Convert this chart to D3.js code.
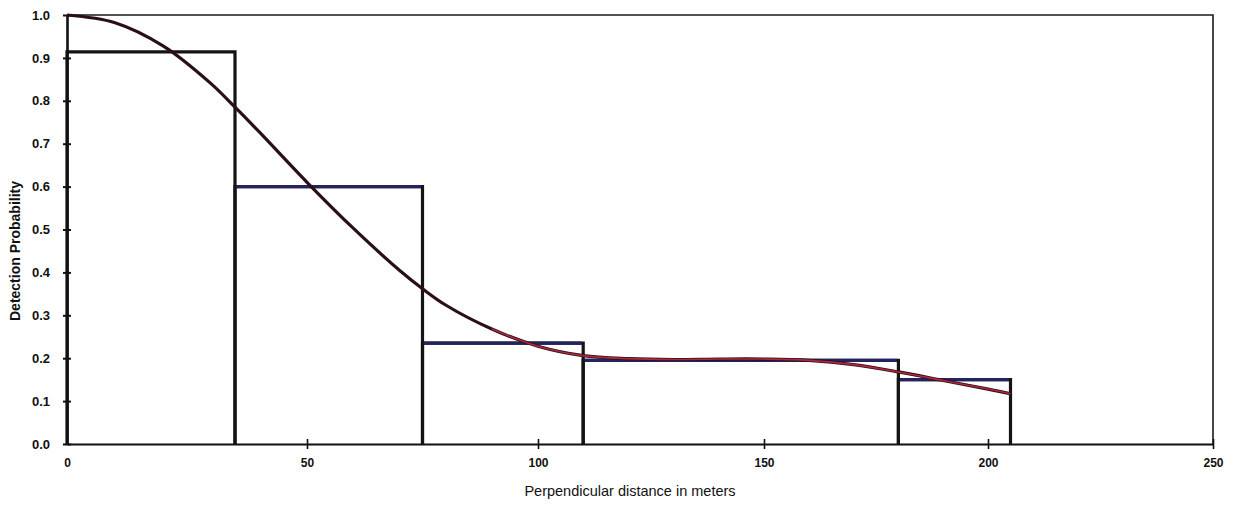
<!DOCTYPE html>
<html>
<head>
<meta charset="utf-8">
<script src="https://cdn.jsdelivr.net/npm/d3@7"></script>
<style>
  html, body { margin: 0; padding: 0; background: #fff; }
  svg { display: block; }
  text { font-family: "Liberation Sans Narrow", "Arial Narrow", "Liberation Sans", Arial, sans-serif; fill: #111; }
</style>
</head>
<body>
<svg id="chart" width="1240" height="508"></svg>
<script>
// Histogram of detections by perpendicular distance band (bin edges in meters)
const binStarts = [0, 35, 75, 110, 180];
const binEnds   = [35, 75, 110, 180, 205];
const binHeights = [0.914, 0.6, 0.235, 0.195, 0.15];

// Fitted detection function g(x)
const curveX = [0, 10, 20, 30, 35, 40, 50, 60, 70, 75, 80, 90, 100, 110, 120, 130, 140, 150, 160, 170, 180, 190, 200, 205];
const curveY = [1.0, 0.982, 0.928, 0.84, 0.785, 0.728, 0.61, 0.503, 0.405, 0.362, 0.324, 0.268, 0.228, 0.206, 0.199, 0.197, 0.198, 0.198, 0.195, 0.185, 0.168, 0.148, 0.128, 0.117];

const xTicks = [0, 50, 100, 150, 200, 250];
const yTicks = [0, 0.1, 0.2, 0.3, 0.4, 0.5, 0.6, 0.7, 0.8, 0.9, 1.0];
const yTickLabels = ["0.0", "0.1", "0.2", "0.3", "0.4", "0.5", "0.6", "0.7", "0.8", "0.9", "1.0"];

const svg = d3.select("#chart");

// Horizontal scale follows the printed tick spacing along the axis
const x = d3.scaleLinear()
  .domain(xTicks)
  .range([67, 307, 538, 764, 988, 1213]);
const y = d3.scaleLinear().domain([0, 1]).range([444, 15]);

const bins = binStarts.map((s, i) => ({ s, e: binEnds[i], h: binHeights[i] }));

// Bars: black outline
const bars = svg.append("g");
bars.selectAll("path.bar")
  .data(bins)
  .enter().append("path")
  .attr("class", "bar")
  .attr("d", d => `M${x(d.s)},${y(0)}V${y(d.h)}H${x(d.e)}V${y(0)}`)
  .attr("fill", "none")
  .attr("stroke", "#141414")
  .attr("stroke-width", 3.2)
  .attr("stroke-linejoin", "miter");

// Bar tops in navy
bars.selectAll("line.top")
  .data(bins.slice(1))
  .enter().append("line")
  .attr("x1", d => x(d.s) + 1.5)
  .attr("x2", d => x(d.e) - 1.5)
  .attr("y1", d => y(d.h))
  .attr("y2", d => y(d.h))
  .attr("stroke", "#23235e")
  .attr("stroke-width", 3.2);

// Axes frame
const frame = svg.append("g");
frame.append("path")
  .attr("d", `M${x(0)},${y(1)}H${x(250)}V${y(0)}`)
  .attr("fill", "none")
  .attr("stroke", "#1a1a1a")
  .attr("stroke-width", 1.6);

const yAxis = d3.axisLeft(y)
  .tickValues(yTicks)
  .tickSize(0)
  .tickFormat((d, i) => yTickLabels[i]);
const gy = svg.append("g").attr("transform", `translate(${x(0)},0)`).call(yAxis);
gy.select(".domain").attr("stroke", "#111").attr("stroke-width", 2.6);
gy.selectAll(".tick text")
  .attr("x", -17)
  .style("font-size", "13px")
  .style("font-weight", "bold");
gy.selectAll(".tick").append("line")
  .attr("x1", -4).attr("x2", 4)
  .attr("stroke", "#111").attr("stroke-width", 2);

const xAxis = d3.axisBottom(x)
  .tickValues(xTicks)
  .tickSize(0)
  .tickFormat(d3.format("d"));
const gx = svg.append("g").attr("transform", `translate(0,${y(0)})`).call(xAxis);
gx.select(".domain").attr("stroke", "#111").attr("stroke-width", 2.2);
gx.selectAll(".tick text")
  .attr("y", 14)
  .style("font-size", "12px")
  .style("font-weight", "bold");
gx.selectAll(".tick").filter(d => d > 0).append("line")
  .attr("y1", -5).attr("y2", 5)
  .attr("stroke", "#111").attr("stroke-width", 1.6);

// Fitted curve
const pts = curveX.map((v, i) => [v, curveY[i]]);
const line = d3.line().x(d => x(d[0])).y(d => y(d[1])).curve(d3.curveCatmullRom.alpha(0.5));
svg.append("path")
  .datum(pts)
  .attr("d", line)
  .attr("fill", "none")
  .attr("stroke", "#2a1016")
  .attr("stroke-width", 3.2);
svg.append("path")
  .datum(pts.filter(d => d[0] >= 88))
  .attr("d", line)
  .attr("fill", "none")
  .attr("stroke", "#b02640")
  .attr("stroke-width", 1.6);

// Axis titles
svg.append("text")
  .attr("x", 630).attr("y", 496)
  .attr("text-anchor", "middle")
  .style("font-size", "14.5px")
  .text("Perpendicular distance in meters");

svg.append("text")
  .attr("transform", `translate(20,251) rotate(-90)`)
  .attr("text-anchor", "middle")
  .style("font-size", "14px")
  .style("font-weight", "bold")
  .text("Detection Probability");
</script>
</body>
</html>
